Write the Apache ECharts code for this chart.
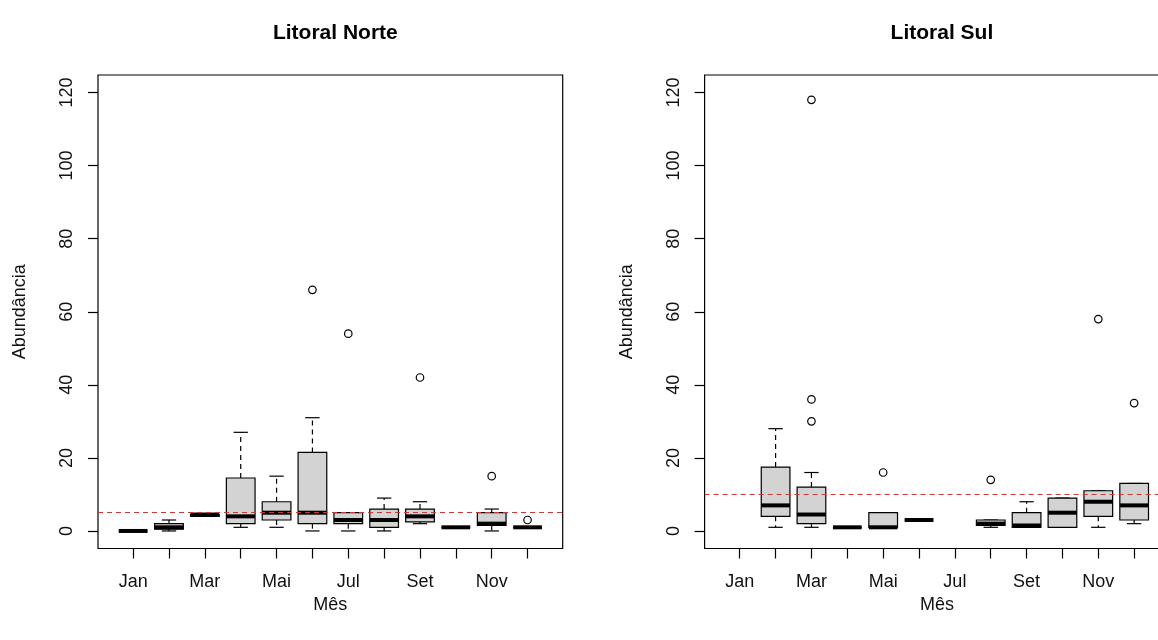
<!DOCTYPE html>
<html>
<head>
<meta charset="utf-8">
<title>Abundância mensal — Litoral Norte e Litoral Sul</title>
<script src="https://cdn.jsdelivr.net/npm/echarts@6/dist/echarts.min.js"></script>
<style>
  html, body { margin: 0; padding: 0; background: #ffffff; }
  #chart { width: 1158px; height: 640px; }
</style>
</head>
<body>
<div id="chart"></div>
<script>
// Month labels (x categories 1..12) and y tick values
const months = ['Jan', 'Fev', 'Mar', 'Abr', 'Mai', 'Jun', 'Jul', 'Ago', 'Set', 'Out', 'Nov', 'Dez'];
const monthTicks = [1, 2, 3, 4, 5, 6, 7, 8, 9, 10, 11, 12];
const monthLabelTicks = [1, 3, 5, 7, 9, 11];
const yTicks = [0, 20, 40, 60, 80, 100, 120];

// Five-number summaries per month: [min, Q1, median, Q3, max]; null = no samples
const norteBoxes = [
  [0, 0, 0, 0, 0],
  [0, 0.5, 1, 2, 3],
  [4, 4, 4.5, 4.5, 4.5],
  [1, 2, 4, 14.5, 27],
  [1, 3, 5, 8, 15],
  [0, 2, 5, 21.5, 31],
  [0, 2, 3, 5, 5],
  [0, 1, 3, 6, 9],
  [2, 2.5, 4, 6, 8],
  [1, 1, 1, 1, 1],
  [0, 1.5, 2, 5, 6],
  [1, 1, 1, 1, 1]
];
// Outliers: [month, value]
const norteOutliers = [[6, 66], [7, 54], [9, 42], [11, 15], [12, 3]];
const norteMean = 5;

const sulBoxes = [
  null,
  [1, 4, 7, 17.5, 28],
  [1, 2, 4.5, 12, 16],
  [1, 1, 1, 1, 1],
  [1, 1, 1, 5, 5],
  [3, 3, 3, 3, 3],
  null,
  [1, 1.5, 2, 3, 3],
  [1, 1, 1.5, 5, 8],
  [1, 1, 5, 9, 9],
  [1, 4, 8, 11, 11],
  [2, 3, 7, 13, 13]
];
const sulOutliers = [[3, 30], [3, 36], [3, 118], [5, 16], [8, 14], [11, 58], [12, 35]];
const sulMean = 10;

const FONT = "'Liberation Sans', Arial, Helvetica, sans-serif";
const INK = '#000000';
const LW = 1.2;

// Turn the per-month summaries into [month, min, Q1, median, Q3, max] rows
function boxRows(boxes) {
  const rows = [];
  boxes.forEach((b, i) => { if (b) rows.push([i + 1].concat(b)); });
  return rows;
}

// Draws a classic box-and-whisker: dashed whiskers, solid staples, grey box, thick median
function renderBox(params, api) {
  const x = api.value(0);
  const lo = api.value(1), q1 = api.value(2), md = api.value(3), q3 = api.value(4), hi = api.value(5);
  const half = api.size([0.4, 0])[0];
  const staple = api.size([0.2, 0])[0];
  const pLo = api.coord([x, lo]);
  const pQ1 = api.coord([x, q1]);
  const pMd = api.coord([x, md]);
  const pQ3 = api.coord([x, q3]);
  const pHi = api.coord([x, hi]);
  const cx = pMd[0];
  const thin = { stroke: INK, lineWidth: LW, fill: null };
  const dashed = { stroke: INK, lineWidth: LW, lineDash: [5, 4], fill: null };
  const children = [];
  if (hi > q3) children.push({ type: 'line', shape: { x1: cx, y1: pQ3[1], x2: cx, y2: pHi[1] }, style: dashed });
  if (lo < q1) children.push({ type: 'line', shape: { x1: cx, y1: pQ1[1], x2: cx, y2: pLo[1] }, style: dashed });
  children.push({ type: 'line', shape: { x1: cx - staple, y1: pHi[1], x2: cx + staple, y2: pHi[1] }, style: thin });
  children.push({ type: 'line', shape: { x1: cx - staple, y1: pLo[1], x2: cx + staple, y2: pLo[1] }, style: thin });
  children.push({
    type: 'rect',
    shape: { x: cx - half, y: pQ3[1], width: 2 * half, height: pQ1[1] - pQ3[1] },
    style: { fill: '#d3d3d3', stroke: INK, lineWidth: LW }
  });
  children.push({
    type: 'line',
    shape: { x1: cx - half, y1: pMd[1], x2: cx + half, y2: pMd[1] },
    style: { stroke: INK, lineWidth: 4, lineCap: 'butt', fill: null }
  });
  return { type: 'group', children };
}

const panels = [
  { title: 'Litoral Norte', left: 98, boxes: norteBoxes, outliers: norteOutliers, mean: norteMean },
  { title: 'Litoral Sul', left: 704.6, boxes: sulBoxes, outliers: sulOutliers, mean: sulMean }
];
const GRID_W = 464.7, GRID_TOP = 75, GRID_H = 473.5;

const option = {
  backgroundColor: '#ffffff',
  animation: false,
  title: panels.map(p => ({
    text: p.title,
    left: p.left + GRID_W / 2,
    top: 18,
    textAlign: 'center',
    textStyle: { fontFamily: FONT, fontSize: 21, fontWeight: 'bold', color: INK }
  })),
  grid: panels.map(p => ({
    left: p.left, top: GRID_TOP, width: GRID_W, height: GRID_H,
    show: true, borderColor: INK, borderWidth: LW, backgroundColor: 'transparent',
    containLabel: false,
    outerBoundsMode: 'none'
  })),
  xAxis: panels.map((p, i) => ({
    type: 'value', gridIndex: i, min: 0.02, max: 12.98,
    axisLine: { show: false, onZero: false },
    splitLine: { show: false },
    axisTick: { show: true, length: 10, customValues: monthTicks, lineStyle: { color: INK, width: LW } },
    axisLabel: {
      customValues: monthLabelTicks, margin: 25,
      fontFamily: FONT, fontSize: 18, color: '#111',
      formatter: v => months[Math.round(v) - 1]
    },
    name: 'Mês', nameLocation: 'middle', nameGap: 48,
    nameTextStyle: { fontFamily: FONT, fontSize: 18, color: '#111' }
  })),
  yAxis: panels.map((p, i) => ({
    type: 'value', gridIndex: i, min: -4.8, max: 124.8,
    axisLine: { show: false, onZero: false },
    splitLine: { show: false },
    axisTick: { show: true, length: 10, customValues: yTicks, lineStyle: { color: INK, width: LW } },
    axisLabel: { customValues: yTicks, rotate: 90, margin: 22, fontFamily: FONT, fontSize: 18, color: '#111' },
    name: 'Abundância', nameLocation: 'middle', nameRotate: 90, nameGap: 69,
    nameTextStyle: { fontFamily: FONT, fontSize: 18, color: '#111' }
  })),
  series: []
};

panels.forEach((p, i) => {
  option.series.push({
    type: 'custom', xAxisIndex: i, yAxisIndex: i, z: 2,
    renderItem: renderBox,
    encode: { x: 0, y: [1, 2, 3, 4, 5] },
    data: boxRows(p.boxes),
    silent: true
  });
  option.series.push({
    type: 'scatter', xAxisIndex: i, yAxisIndex: i, z: 3,
    symbol: 'circle', symbolSize: 7.5,
    itemStyle: { color: '#ffffff', borderColor: INK, borderWidth: LW, opacity: 1 },
    data: p.outliers,
    silent: true,
    markLine: {
      silent: true, symbol: 'none',
      label: { show: false },
      lineStyle: { color: '#c83a3a', width: 1.2, type: [5, 4] },
      data: [{ yAxis: p.mean }]
    }
  });
});

const chart = echarts.init(document.getElementById('chart'), null, { renderer: 'canvas' });
chart.setOption(option);
</script>
</body>
</html>
